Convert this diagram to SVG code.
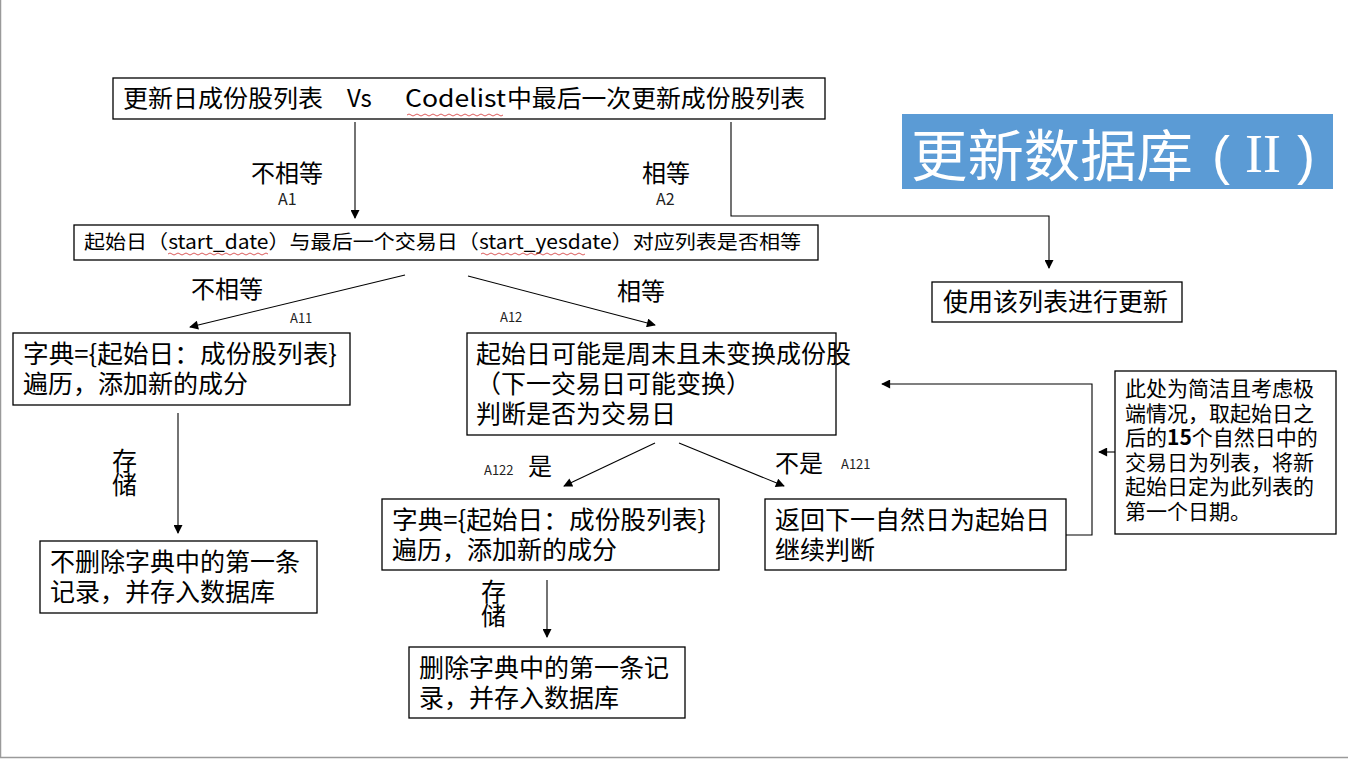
<svg xmlns="http://www.w3.org/2000/svg" width="1348" height="759" viewBox="0 0 1348 759">
  <defs>
    <marker id="arrow" viewBox="0 0 10 10" refX="9" refY="5" markerWidth="10" markerHeight="9" markerUnits="userSpaceOnUse" orient="auto">
      <path d="M0,0 L10,5 L0,10 z" fill="#000"/>
    </marker>
    <style>
      .box { fill: #fff; stroke: #000; stroke-width: 1.3; }
      .t { font-family: "Noto Sans CJK SC", "Microsoft YaHei", sans-serif; fill: #000; }
      .big { font-size: 25px; }
      .mid { font-size: 19.5px; }
      .sm { font-size: 21px; }
      .tag { font-size: 13px; fill: #222; }
      .tagl { font-size: 16px; fill: #222; }
      .lbl { font-size: 24px; }
      .conn { fill: none; stroke: #000; stroke-width: 1.1; }
      .squig { fill: none; stroke: #d03030; stroke-width: 0.8; }
    </style>
  </defs>

  <rect x="0" y="0" width="1348" height="759" fill="#fff"/>
  <line x1="0.5" y1="0" x2="0.5" y2="758" stroke="#9a9a9a" stroke-width="1.5"/>
  <line x1="0" y1="757.5" x2="1348" y2="757.5" stroke="#9a9a9a" stroke-width="1.5"/>

  <!-- title banner -->
  <g id="title">
    <rect x="902" y="114" width="431" height="75" fill="#5b9bd5"/>
    <text class="t" x="911" y="176" font-size="56" style="fill:#fff" textLength="282" lengthAdjust="spacingAndGlyphs">更新数据库</text>
    <text x="1212" y="174" font-family="Liberation Sans, sans-serif" font-size="54" font-weight="300" fill="#fff">(</text>
    <text x="1245" y="172" font-family="Liberation Serif, serif" font-size="54" fill="#fff">II</text>
    <text x="1297" y="174" font-family="Liberation Sans, sans-serif" font-size="54" font-weight="300" fill="#fff">)</text>
  </g>

  <!-- connectors -->
  <g id="connectors">
    <line class="conn" x1="355" y1="122" x2="355" y2="218" marker-end="url(#arrow)"/>
    <polyline class="conn" points="731,122 731,216 1049,216 1049,268" marker-end="url(#arrow)"/>
    <line class="conn" x1="405" y1="275" x2="190" y2="327" marker-end="url(#arrow)"/>
    <line class="conn" x1="468" y1="276" x2="655" y2="325" marker-end="url(#arrow)"/>
    <line class="conn" x1="178" y1="413" x2="178" y2="533" marker-end="url(#arrow)"/>
    <line class="conn" x1="655" y1="443" x2="564" y2="486" marker-end="url(#arrow)"/>
    <line class="conn" x1="679" y1="443" x2="784" y2="486" marker-end="url(#arrow)"/>
    <line class="conn" x1="547" y1="580" x2="547" y2="637" marker-end="url(#arrow)"/>
    <polyline class="conn" points="1066,535 1092,535 1092,384 882,384" marker-end="url(#arrow)"/>
    <line class="conn" x1="1115" y1="452" x2="1099" y2="452" marker-end="url(#arrow)"/>

    <!-- edge labels -->
    <text class="t lbl" x="251" y="182">不相等</text>
    <text class="t tagl" x="278" y="205">A1</text>
    <text class="t lbl" x="642" y="182">相等</text>
    <text class="t tagl" x="656" y="205">A2</text>
    <text class="t lbl" x="191" y="298">不相等</text>
    <text class="t tag" x="290" y="323">A11</text>
    <text class="t lbl" x="617" y="300">相等</text>
    <text class="t tag" x="500" y="322">A12</text>
    <text class="t big"><tspan x="112" y="470">存</tspan><tspan x="112" y="494">储</tspan></text>
    <text class="t tag" x="484" y="475">A122</text>
    <text class="t lbl" x="528" y="475">是</text>
    <text class="t lbl" x="775" y="472">不是</text>
    <text class="t tag" x="841" y="469">A121</text>
    <text class="t big"><tspan x="481" y="601">存</tspan><tspan x="481" y="625">储</tspan></text>
  </g>

  <g id="compare">
    <rect class="box" x="113" y="78" width="712" height="41"/>
    <text class="t" font-size="24" x="123" y="107" textLength="200" lengthAdjust="spacingAndGlyphs">更新日成份股列表</text>
    <text class="t" font-size="24" x="347" y="107">Vs</text>
    <text class="t" font-size="24" x="405" y="107" textLength="101" lengthAdjust="spacingAndGlyphs">Codelist</text>
    <text class="t" font-size="24" x="507" y="107" textLength="298" lengthAdjust="spacingAndGlyphs">中最后一次更新成份股列表</text>
    <path class="squig" d="M407,115 q2,-2 4,0 t4,0 t4,0 t4,0 t4,0 t4,0 t4,0 t4,0 t4,0 t4,0 t4,0 t4,0 t4,0 t4,0 t4,0 t4,0 t4,0 t4,0 t4,0 t4,0 t4,0 t4,0 t4,0 t4,0"/>
  </g>

  <g id="startdate">
    <rect class="box" x="74" y="225" width="744" height="35"/>
    <text class="t mid" x="84" y="249" textLength="717" lengthAdjust="spacingAndGlyphs">起始日（start_date）与最后一个交易日（start_yesdate）对应列表是否相等</text>
    <path class="squig" d="M168,254 q2,-2 4,0 t4,0 t4,0 t4,0 t4,0 t4,0 t4,0 t4,0 t4,0 t4,0 t4,0 t4,0 t4,0 t4,0 t4,0 t4,0 t4,0 t4,0 t4,0 t4,0 t4,0 t4,0 t4,0 t4,0 t4,0"/>
    <path class="squig" d="M481,254 q2,-2 4,0 t4,0 t4,0 t4,0 t4,0 t4,0 t4,0 t4,0 t4,0 t4,0 t4,0 t4,0 t4,0 t4,0 t4,0 t4,0 t4,0 t4,0 t4,0 t4,0 t4,0 t4,0 t4,0 t4,0 t4,0 t4,0"/>
  </g>

  <g id="use-list">
    <rect class="box" x="932" y="282" width="250" height="40"/>
    <text class="t big" x="943" y="311">使用该列表进行更新</text>
  </g>

  <g id="dict-a11">
    <rect class="box" x="13" y="333" width="337" height="72"/>
    <text class="t big" x="23" y="363" textLength="314" lengthAdjust="spacingAndGlyphs">字典={起始日：成份股列表}</text>
    <text class="t big" x="23" y="393">遍历，添加新的成分</text>
  </g>

  <g id="store-keep">
    <rect class="box" x="40" y="541" width="277" height="72"/>
    <text class="t big" x="50" y="571">不删除字典中的第一条</text>
    <text class="t big" x="50" y="601">记录，并存入数据库</text>
  </g>

  <g id="check-a12">
    <rect class="box" x="467" y="333" width="369" height="102"/>
    <text class="t big" x="476" y="363">起始日可能是周末且未变换成份股</text>
    <text class="t big" x="476" y="393">（下一交易日可能变换）</text>
    <text class="t big" x="476" y="423">判断是否为交易日</text>
  </g>

  <g id="dict-a122">
    <rect class="box" x="382" y="499" width="337" height="71"/>
    <text class="t big" x="392" y="529" textLength="314" lengthAdjust="spacingAndGlyphs">字典={起始日：成份股列表}</text>
    <text class="t big" x="392" y="559">遍历，添加新的成分</text>
  </g>

  <g id="next-day">
    <rect class="box" x="765" y="499" width="301" height="71"/>
    <text class="t big" x="775" y="529">返回下一自然日为起始日</text>
    <text class="t big" x="775" y="559">继续判断</text>
  </g>

  <g id="note">
    <rect class="box" x="1115" y="371" width="221" height="163"/>
    <text class="t sm" x="1125" y="396">此处为简洁且考虑极</text>
    <text class="t sm" x="1125" y="420.6">端情况，取起始日之</text>
    <text class="t sm" x="1125" y="445.2">后的<tspan font-weight="bold">15</tspan>个自然日中的</text>
    <text class="t sm" x="1125" y="469.8">交易日为列表，将新</text>
    <text class="t sm" x="1125" y="494.4">起始日定为此列表的</text>
    <text class="t sm" x="1125" y="519">第一个日期。</text>
  </g>

  <g id="store-delete">
    <rect class="box" x="409" y="647" width="276" height="71"/>
    <text class="t big" x="419" y="677">删除字典中的第一条记</text>
    <text class="t big" x="419" y="707">录，并存入数据库</text>
  </g>
</svg>
